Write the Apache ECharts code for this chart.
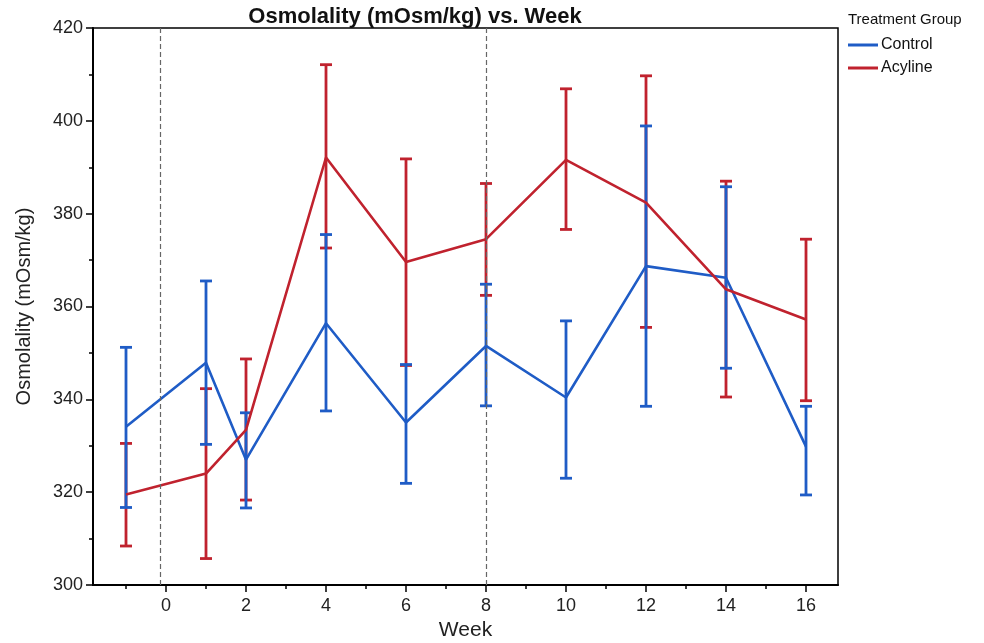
<!DOCTYPE html>
<html>
<head>
<meta charset="utf-8">
<script src="https://cdn.jsdelivr.net/npm/echarts@6/dist/echarts.min.js"></script>
<style>
  html, body { margin: 0; padding: 0; background: #fff; }
  #chart { width: 984px; height: 643px; }
</style>
</head>
<body>
<div id="chart"></div>
<script>
// Study weeks at which osmolality was measured
const weeks = [-1, 1, 2, 4, 6, 8, 10, 12, 14, 16];

// Control group: mean and error-bar limits
const controlMean = [334.1, 347.9, 327.0, 356.4, 335.0, 351.5, 340.4, 368.7, 366.2, 329.8];
const controlLow  = [316.7, 330.3, 316.6, 337.5, 321.9, 338.6, 323.0, 338.5, 346.7, 319.4];
const controlHigh = [351.2, 365.5, 337.1, 375.5, 347.5, 364.8, 356.9, 398.9, 385.8, 338.5];

// Acyline group: mean and error-bar limits
const acylineMean = [319.5, 324.0, 333.4, 392.1, 369.6, 374.5, 391.6, 382.4, 363.7, 357.2];
const acylineLow  = [308.4, 305.7, 318.3, 372.6, 347.3, 362.4, 376.6, 355.5, 340.5, 339.7];
const acylineHigh = [330.5, 342.3, 348.7, 412.1, 391.8, 386.5, 406.9, 409.7, 387.0, 374.5];

// Axis tick values and reference weeks
const xMajorTicks = [0, 2, 4, 6, 8, 10, 12, 14, 16];
const xMinorTicks = [-1, 1, 3, 5, 7, 9, 11, 13, 15];
const referenceWeeks = [-0.14, 8];

const BLUE = '#1f5cc6';
const RED = '#c0222e';
const FONT = '"Liberation Sans", Arial, sans-serif';

function errorBarSeries(name, color, low, high) {
  const data = weeks.map((w, i) => [w, low[i], high[i]]);
  return {
    type: 'custom',
    name: name + ' error',
    z: 2,
    silent: true,
    encode: { x: 0, y: [1, 2] },
    data: data,
    renderItem: function (params, api) {
      const x = api.value(0);
      const pLo = api.coord([x, api.value(1)]);
      const pHi = api.coord([x, api.value(2)]);
      const hw = 6;
      const st = { stroke: color, lineWidth: 2.8 };
      return {
        type: 'group',
        children: [
          { type: 'line', shape: { x1: pLo[0], y1: pLo[1], x2: pHi[0], y2: pHi[1] }, style: st },
          { type: 'line', shape: { x1: pLo[0] - hw, y1: pLo[1], x2: pLo[0] + hw, y2: pLo[1] }, style: st },
          { type: 'line', shape: { x1: pHi[0] - hw, y1: pHi[1], x2: pHi[0] + hw, y2: pHi[1] }, style: st }
        ]
      };
    }
  };
}

const chart = echarts.init(document.getElementById('chart'), null, { renderer: 'canvas' });

chart.setOption({
  backgroundColor: '#fff',
  animation: false,
  textStyle: { fontFamily: FONT },
  grid: {
    left: 93, right: 146, top: 28, bottom: 58,
    outerBoundsMode: 'none',
    containLabel: false,
    show: true, borderColor: '#000', borderWidth: 1.5, backgroundColor: '#fff'
  },
  graphic: [
    {
      type: 'text', x: 415, y: 17,
      style: {
        text: 'Osmolality (mOsm/kg) vs. Week',
        font: 'bold 22px ' + FONT, fill: '#111',
        textAlign: 'center', textVerticalAlign: 'middle'
      }
    },
    {
      type: 'text', x: 848, y: 20,
      style: {
        text: 'Treatment Group',
        font: '15px ' + FONT, fill: '#111',
        textAlign: 'left', textVerticalAlign: 'middle'
      }
    }
  ],
  legend: {
    orient: 'vertical',
    left: 844, top: 37,
    icon: 'rect',
    itemWidth: 30, itemHeight: 3,
    itemGap: 7,
    padding: [0, 0, 0, 4],
    textStyle: { fontSize: 16, color: '#111', fontFamily: FONT, padding: [0, 0, 0, -2] },
    data: ['Control', 'Acyline']
  },
  xAxis: [
    {
      type: 'value', min: -1.825, max: 16.8,
      name: 'Week', nameLocation: 'middle', nameGap: 32,
      nameTextStyle: { fontSize: 21, color: '#222', fontFamily: FONT },
      axisLine: { onZero: false, lineStyle: { color: '#000', width: 2 } },
      axisTick: { show: true, length: 7, customValues: xMajorTicks, lineStyle: { color: '#000', width: 1.5 } },
      axisLabel: { customValues: xMajorTicks, fontSize: 18, color: '#222', margin: 12 },
      splitLine: { show: false }
    },
    {
      type: 'value', min: -1.825, max: 16.8, position: 'bottom',
      axisLine: { show: false, onZero: false },
      axisTick: { show: true, length: 4, customValues: xMinorTicks, lineStyle: { color: '#000', width: 1.5 } },
      axisLabel: { show: false },
      splitLine: { show: false }
    }
  ],
  yAxis: {
    type: 'value', min: 300, max: 420, interval: 20,
    name: 'Osmolality (mOsm/kg)', nameLocation: 'middle', nameGap: 59,
    nameTextStyle: { fontSize: 20, color: '#222', fontFamily: FONT },
    axisLine: { show: true, onZero: false, lineStyle: { color: '#000', width: 2 } },
    axisTick: { show: true, length: 7, lineStyle: { color: '#000', width: 1.5 } },
    minorTick: { show: true, splitNumber: 2, length: 4, lineStyle: { color: '#000', width: 1.5 } },
    axisLabel: { fontSize: 18, color: '#222', margin: 10 },
    splitLine: { show: false }
  },
  series: [
    errorBarSeries('Acyline', RED, acylineLow, acylineHigh),
    errorBarSeries('Control', BLUE, controlLow, controlHigh),
    {
      type: 'line', name: 'Control', z: 3,
      data: weeks.map((w, i) => [w, controlMean[i]]),
      symbol: 'none', color: BLUE,
      lineStyle: { color: BLUE, width: 2.6 },
      markLine: {
        silent: true, symbol: 'none',
        label: { show: false },
        lineStyle: { color: '#666', type: [5, 3], width: 1.2 },
        data: referenceWeeks.map(w => ({ xAxis: w }))
      }
    },
    {
      type: 'line', name: 'Acyline', z: 3,
      data: weeks.map((w, i) => [w, acylineMean[i]]),
      symbol: 'none', color: RED,
      lineStyle: { color: RED, width: 2.6 }
    }
  ]
});
</script>
</body>
</html>
